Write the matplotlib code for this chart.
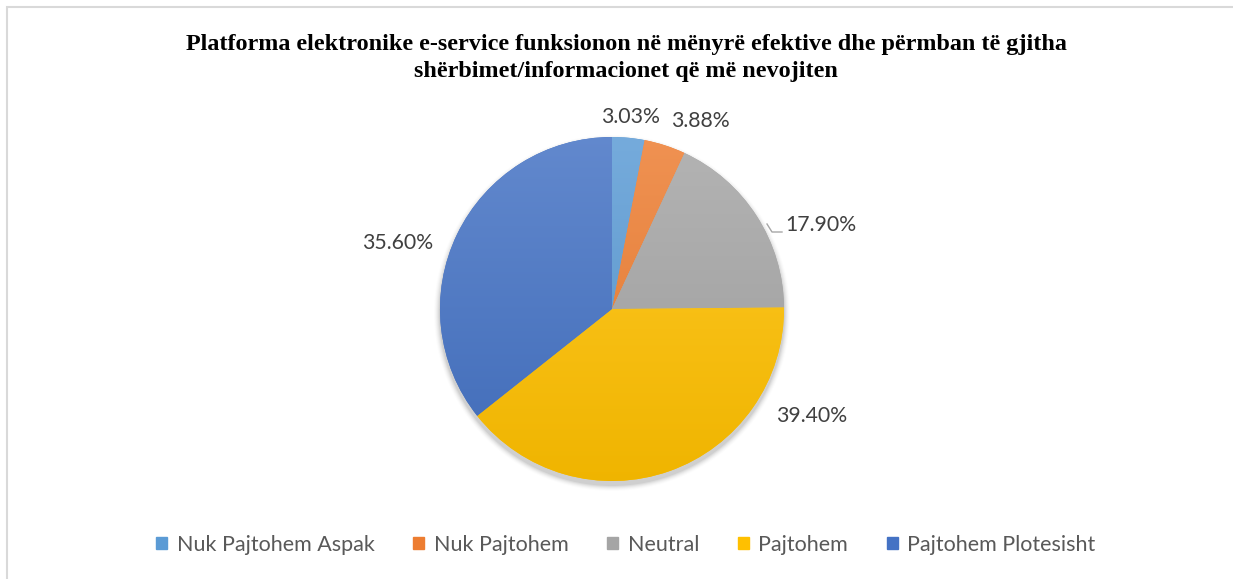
import numpy as np
import matplotlib
matplotlib.use("Agg")
import matplotlib.pyplot as plt
import matplotlib.colors as mcolors
from matplotlib.patches import Rectangle, Circle

# data
categories = ["Nuk Pajtohem Aspak", "Nuk Pajtohem", "Neutral", "Pajtohem", "Pajtohem Plotesisht"]
shares = [3.03, 3.88, 17.90, 39.40, 35.60]
pct_labels = ["3.03%", "3.88%", "17.90%", "39.40%", "35.60%"]
colors = ["#5B9BD5", "#ED7D31", "#A5A5A5", "#FFC000", "#4472C4"]
title = ("Platforma elektronike e-service funksionon në mënyrë efektive dhe përmban të gjitha\n"
         "shërbimet/informacionet që më nevojiten")

W, H = 1233, 579
fig = plt.figure(figsize=(W / 100, H / 100), dpi=100)
ax = fig.add_axes([0, 0, 1, 1])

cx, cy, R = 612, H - 309, 172

# soft shadow under the pie
for i, a in enumerate(np.linspace(0.05, 0.01, 6)):
    ax.add_patch(Circle((cx, cy - 4), R + 1 + i, color="black", alpha=a, lw=0, zorder=0))

wedges, _ = ax.pie(shares, colors=colors, startangle=90, counterclock=False,
                   center=(cx, cy), radius=R, wedgeprops=dict(linewidth=0))


def grad(base):
    rgb = np.array(mcolors.to_rgb(base))
    top = rgb + (1 - rgb) * 0.16
    bot = rgb * 0.94
    t = np.linspace(0, 1, 256)[:, None, None]
    return (top * (1 - t) + bot * t) * np.ones((256, 2, 3))


for w, c in zip(wedges, colors):
    im = ax.imshow(grad(c), extent=[cx - R, cx + R, cy - R, cy + R], origin="upper",
                   aspect="auto", interpolation="bilinear", zorder=2)
    im.set_clip_path(w)

# data labels (Excel style placement)
label_pos = [(630, 117), (700, 121), (785, 225), (812, 416), (398, 243)]
label_ha = ["center", "center", "left", "center", "center"]
for txt, (x, y), ha in zip(pct_labels, label_pos, label_ha):
    ax.text(x, H - y, txt, ha=ha, va="center", fontsize=15.3, color="#404040",
            family="Lato", zorder=5)
ax.plot([767, 772, 782], [H - 224, H - 232, H - 232], color="#A6A6A6", lw=1, zorder=4)

ax.set_xlim(0, W)
ax.set_ylim(0, H)
ax.set_aspect("equal")
ax.axis("off")

fig.text(626 / W, 1 - 58 / H, title, ha="center", va="center", fontsize=17.4,
         fontweight="bold", family="Liberation Serif", linespacing=1.32)

# chart border (left/top visible)
fig.add_artist(Rectangle((7 / W, -0.1), 1.2, 1 - 7 / H + 0.1, transform=fig.transFigure,
                         fill=False, edgecolor="#D9D9D9", lw=1.5))

handles = [Rectangle((0, 0), 1, 1, color=c) for c in colors]
leg = fig.legend(handles, categories, loc="center", bbox_to_anchor=(626 / W, 1 - 545 / H),
                 ncol=5, frameon=False, handlelength=0.5, handleheight=0.5,
                 handletextpad=0.45, columnspacing=1.8,
                 prop=dict(family="Lato", size=15.5))
for t in leg.get_texts():
    t.set_color("#595959")

fig.savefig("out.png", dpi=100)
